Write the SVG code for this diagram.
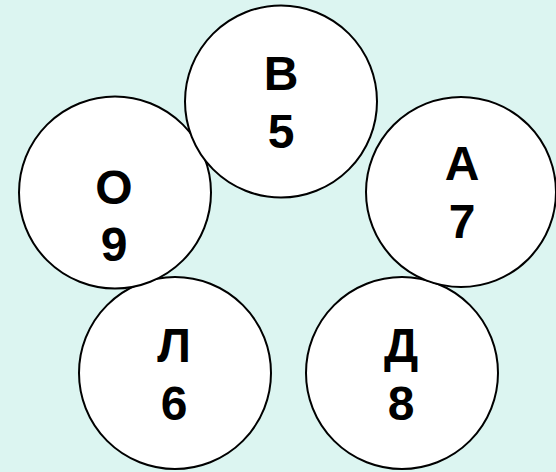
<svg xmlns="http://www.w3.org/2000/svg" width="556" height="472" viewBox="0 0 556 472">
<style>
.c{fill:#ffffff;stroke:#000000;stroke-width:2}
.t{font-family:"Liberation Sans",Arial,sans-serif;font-weight:bold;font-size:48px;fill:#000000;text-anchor:middle}
</style>
<rect width="556" height="472" fill="#dcf5f1"/>
<g id="connectors"></g>
<g id="node-L">
<circle class="c" cx="175" cy="373" r="96"/>
<text class="t" x="174" y="362">Л</text>
<text class="t" x="174" y="420">6</text>
</g>
<g id="node-D">
<circle class="c" cx="402" cy="373" r="96"/>
<text class="t" x="401" y="362">Д</text>
<text class="t" x="401" y="420">8</text>
</g>
<g id="node-O">
<circle class="c" cx="115" cy="192.5" r="96"/>
<text class="t" x="114" y="204">О</text>
<text class="t" x="114" y="261">9</text>
</g>
<g id="node-A">
<circle class="c" cx="461" cy="192" r="95"/>
<text class="t" x="462" y="180">А</text>
<text class="t" x="462" y="238">7</text>
</g>
<g id="node-B">
<circle class="c" cx="281" cy="101.5" r="96"/>
<text class="t" x="281" y="90">В</text>
<text class="t" x="281" y="148">5</text>
</g>
</svg>
